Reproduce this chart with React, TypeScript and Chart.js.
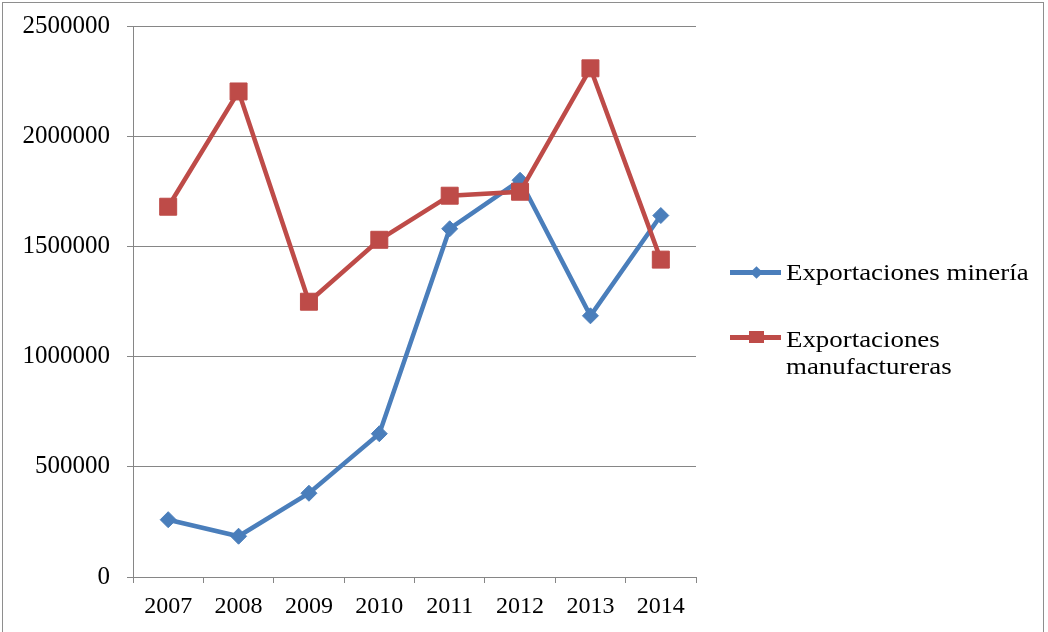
import React, { useEffect, useRef } from "react";
import { Chart, registerables } from "chart.js";

Chart.register(...registerables);

const years = ["2007", "2008", "2009", "2010", "2011", "2012", "2013", "2014"];
const mineria = [260000, 185000, 380000, 650000, 1580000, 1800000, 1185000, 1640000];
const manufactureras = [1680000, 2203000, 1249000, 1530000, 1730000, 1748000, 2308000, 1440000];
const seriesNames = ["Exportaciones minería", "Exportaciones manufactureras"];
const yTicks = [0, 500000, 1000000, 1500000, 2000000, 2500000];

const BLUE = "#4A7EBB";
const RED = "#BE4B48";
const GRID = "#868686";
const FONT = "'Liberation Serif', 'Times New Roman', serif";

export default function App() {
  const ref = useRef<HTMLCanvasElement | null>(null);

  useEffect(() => {
    document.body.style.margin = "0";
    const canvas = ref.current!;
    const chart = new Chart(canvas, {
      type: "line",
      data: {
        labels: years,
        datasets: [
          {
            label: seriesNames[0],
            data: mineria,
            borderColor: BLUE,
            backgroundColor: BLUE,
            borderWidth: 4.5,
            pointStyle: "rectRot",
            pointRadius: 8,
            pointBorderWidth: 1,
            pointBorderColor: BLUE,
            pointBackgroundColor: BLUE,
            tension: 0,
            order: 1,
          },
          {
            label: seriesNames[1],
            data: manufactureras,
            borderColor: RED,
            backgroundColor: RED,
            borderWidth: 4.5,
            pointStyle: "rect",
            pointRadius: 12,
            pointBorderWidth: 1,
            pointBorderColor: RED,
            pointBackgroundColor: RED,
            tension: 0,
            order: 0,
          },
        ],
      },
      options: {
        responsive: false,
        animation: false,
        devicePixelRatio: 1,
        layout: { padding: { top: 26, right: 352, left: 0, bottom: 0 } },
        plugins: { legend: { display: false }, tooltip: { enabled: false } },
        scales: {
          x: {
            offset: true,
            grid: {
              offset: true,
              drawOnChartArea: false,
              drawTicks: true,
              tickLength: 6,
              color: GRID,
            },
            border: { display: true, color: GRID, width: 1 },
            ticks: {
              color: "#000",
              font: { family: FONT, size: 24 },
              padding: 9,
              maxRotation: 0,
            },
            afterFit: (s: any) => {
              s.height = 55;
              s.paddingLeft = 0;
              s.paddingRight = 0;
            },
          },
          y: {
            min: 0,
            max: 2500000,
            afterBuildTicks: (s: any) => {
              s.ticks = yTicks.map((v) => ({ value: v }));
            },
            grid: { color: GRID, lineWidth: 1, drawTicks: true, tickLength: 6 },
            border: { display: true, color: GRID, width: 1 },
            ticks: {
              color: "#000",
              font: { family: FONT, size: 25 },
              padding: 17,
              callback: (v: any) => String(v),
            },
            afterFit: (s: any) => {
              s.width = 133;
              s.paddingTop = 0;
              s.paddingBottom = 0;
            },
          },
        },
      },
    });
    return () => chart.destroy();
  }, []);

  const textStyle: React.CSSProperties = {
    position: "absolute",
    fontFamily: FONT,
    fontSize: 24,
    lineHeight: "27px",
    color: "#000",
    whiteSpace: "nowrap",
    transform: "scaleX(1.12)",
    transformOrigin: "left top",
  };

  return (
    <div style={{ position: "relative", width: 1048, height: 632, overflow: "hidden", background: "#fff" }}>
      <div
        style={{
          position: "absolute",
          left: 2,
          top: 2,
          width: 1042,
          height: 640,
          border: "1px solid #8e8e8e",
          boxSizing: "border-box",
        }}
      />
      <canvas ref={ref} width={1048} height={632} style={{ position: "absolute", left: 0, top: 0 }} />
      {/* legend */}
      <div style={{ position: "absolute", left: 730, top: 269.5, width: 51, height: 5, background: BLUE }} />
      <div
        style={{
          position: "absolute",
          left: 751.5,
          top: 267.5,
          width: 9,
          height: 9,
          background: BLUE,
          transform: "rotate(45deg)",
        }}
      />
      <div style={{ ...textStyle, left: 786, top: 258.5 }}>{seriesNames[0]}</div>
      <div style={{ position: "absolute", left: 730, top: 334.5, width: 51, height: 5, background: RED }} />
      <div style={{ position: "absolute", left: 748.5, top: 331, width: 15, height: 12, background: RED }} />
      <div style={{ ...textStyle, left: 786, top: 325.5, width: 200, whiteSpace: "normal" }}>
        {seriesNames[1]}
      </div>
    </div>
  );
}
